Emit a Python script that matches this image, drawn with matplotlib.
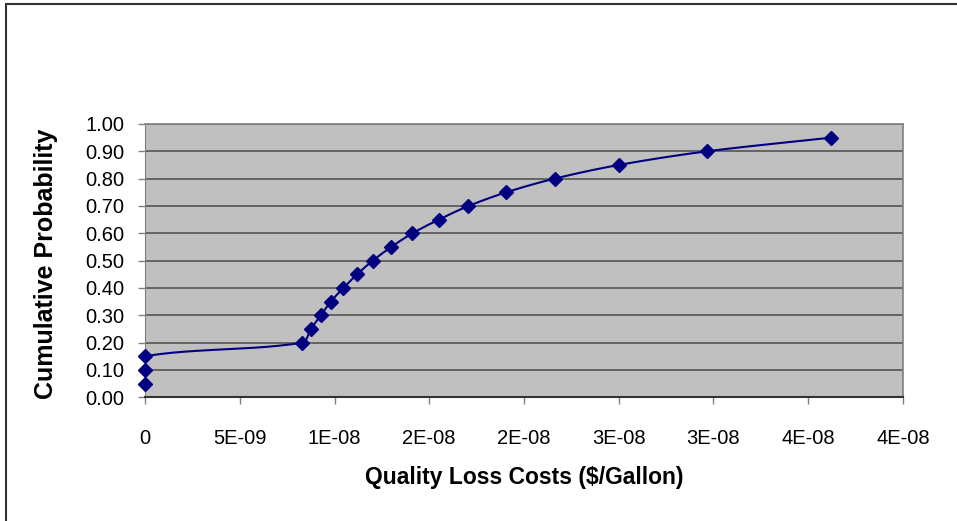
import matplotlib
matplotlib.use('Agg')
import matplotlib.pyplot as plt
import numpy as np
from matplotlib.patches import Rectangle

# quality loss costs ($/gallon) and cumulative probability
costs = [0.0, 0.0, 0.0, 8.30e-9, 8.75e-9, 9.28e-9, 9.80e-9, 1.047e-8,
         1.119e-8, 1.202e-8, 1.299e-8, 1.411e-8, 1.550e-8, 1.707e-8,
         1.906e-8, 2.161e-8, 2.499e-8, 2.965e-8, 3.620e-8]
probs = [0.05, 0.10, 0.15, 0.20, 0.25, 0.30, 0.35, 0.40, 0.45, 0.50,
         0.55, 0.60, 0.65, 0.70, 0.75, 0.80, 0.85, 0.90, 0.95]

xticks = [0, 5e-9, 1e-8, 1.5e-8, 2e-8, 2.5e-8, 3e-8, 3.5e-8, 4e-8]
xtick_labels = ['0', '5E-09', '1E-08', '2E-08', '2E-08', '3E-08', '3E-08', '4E-08', '4E-08']
yticks = np.arange(0, 1.01, 0.1)

plt.rcParams['font.family'] = ['Liberation Sans', 'DejaVu Sans']

XMAX = 4e-8
fig = plt.figure(figsize=(9.57, 5.21), dpi=100)
ax = fig.add_axes([145 / 957, 1 - 397.3 / 521, 758 / 957, 273.3 / 521])
W, H = 758.0, 273.3  # axes size in pixels, smoothing is done in screen space


def smooth(xs, ys, n=40):
    # Excel-like smoothed line: cubic Bezier, tangents weighted by segment lengths
    pts = np.column_stack([np.array(xs) / XMAX * W, np.array(ys) * H])
    out = [pts[0]]
    m = len(pts)
    for i in range(m - 1):
        p0 = pts[max(i - 1, 0)]
        p1 = pts[i]
        p2 = pts[i + 1]
        p3 = pts[min(i + 2, m - 1)]
        d01 = np.hypot(*(p1 - p0))
        d12 = np.hypot(*(p2 - p1))
        d23 = np.hypot(*(p3 - p2))
        f1 = d12 / (d01 + d12) / 3 if d01 + d12 > 0 else 0
        f2 = d12 / (d12 + d23) / 3 if d12 + d23 > 0 else 0
        c1 = p1 + (p2 - p0) * f1
        c2 = p2 - (p3 - p1) * f2
        t = np.linspace(0, 1, n)[1:, None]
        seg = (1 - t) ** 3 * p1 + 3 * (1 - t) ** 2 * t * c1 + 3 * (1 - t) * t ** 2 * c2 + t ** 3 * p2
        out.extend(seg)
    out = np.array(out)
    return out[:, 0] / W * XMAX, out[:, 1] / H


sx, sy = smooth(costs, probs)
ax.plot(sx, sy, color='#000080', lw=1.5, zorder=3)
ax.plot(costs, probs, linestyle='none', marker='D', ms=6.8, color='#000080', zorder=4, clip_on=False)

ax.set_facecolor('#c0c0c0')
ax.set_xlim(0, XMAX)
ax.set_ylim(0, 1)
ax.set_xticks(xticks)
ax.set_xticklabels(xtick_labels)
ax.set_yticks(yticks)
ax.set_yticklabels(['{:.2f}'.format(v) for v in yticks])
ax.grid(axis='y', color='#555555', lw=1.2)
ax.set_axisbelow(True)

for s in ['top', 'right']:
    ax.spines[s].set_color('#808080')
    ax.spines[s].set_linewidth(1.2)
ax.spines['left'].set_color('#808080')
ax.spines['bottom'].set_color('#333333')
ax.spines['bottom'].set_linewidth(1.5)

ax.tick_params(axis='both', direction='out', length=5, width=1, color='#808080', labelsize=14.5)
ax.tick_params(axis='y', pad=10)
ax.tick_params(axis='x', pad=18)

ax.set_xlabel('Quality Loss Costs ($/Gallon)', fontsize=16.5, fontweight='bold')
ax.set_ylabel('Cumulative Probability', fontsize=18, fontweight='bold')
ax.xaxis.set_label_coords(0.5, -0.252)
ax.yaxis.set_label_coords(-0.13, 0.487)
ax.yaxis.label.set_va('center')

# chart area border (only top and left edges show in the picture)
fig.patches.append(Rectangle((6 / 957, -0.1), 1.2, 1.1 - 4 / 521, transform=fig.transFigure,
                             fill=False, edgecolor='#333333', lw=1.5))

fig.savefig('out.png', dpi=100)
